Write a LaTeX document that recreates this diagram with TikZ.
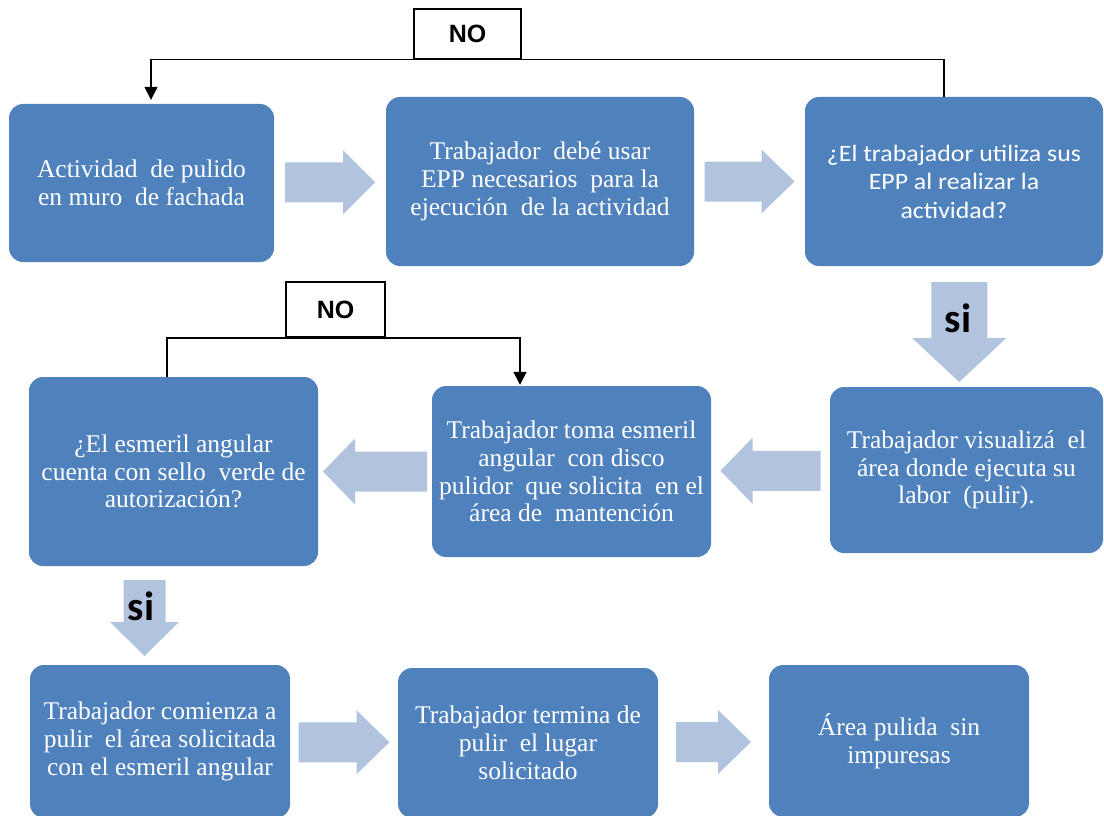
\documentclass[tikz,border=0pt]{standalone}
\usepackage{fontspec}
\setmainfont{Liberation Serif}
\newfontfamily\calibrifont[FakeStretch=1.1]{Carlito}
\newfontfamily\calibribold{Carlito}
\newfontfamily\arialfont{Liberation Sans}
\usetikzlibrary{arrows.meta,calc}
\definecolor{boxblue}{RGB}{79,129,189}
\definecolor{blockfill}{RGB}{178,195,221}

% block arrow: #1 centre, #2 rotation, #3 length, #4 head length, #5 half head width, #6 half shaft width
\newcommand\blockarrow[6]{%
  \begin{scope}[shift={#1},rotate=#2]
    \fill[blockfill] ({-#3/2},{-#6}) -- ({#3/2-#4},{-#6}) -- ({#3/2-#4},{-#5}) -- ({#3/2},0)
      -- ({#3/2-#4},{#5}) -- ({#3/2-#4},{#6}) -- ({-#3/2},{#6}) -- cycle;
  \end{scope}}

\tikzset{
  box/.style={rectangle, rounded corners=14, fill=boxblue, text=white, align=center,
    inner sep=0, font=\fontsize{25.5}{27.8}\selectfont},
  nolabel/.style={draw=black, line width=1.5, fill=white, inner sep=0,
    font=\arialfont\bfseries\fontsize{25}{28}\selectfont},
  conn/.style={draw=black, line width=1.5, -{Triangle[width=13,length=13]}},
  silabel/.style={inner sep=0, font=\calibribold\bfseries\fontsize{41}{44}\selectfont},
}

\begin{document}
\begin{tikzpicture}[x=1pt,y=-1pt]
\useasboundingbox (0,0) rectangle (1104,816);
\clip (0,0) rectangle (1104,816);

% process boxes
\node[box, minimum width=265, minimum height=158] (b1) at (141.5,183)
  {Actividad\ \ de pulido\\en muro\ \ de fachada};
\node[box, minimum width=308, minimum height=169] (b2) at (540,181.5)
  {Trabajador\ \ debé usar\\EPP necesarios\ \ para la\\ejecución\ \ de la actividad};
\node[box, minimum width=298, minimum height=169, font=\calibrifont\fontsize{23.5}{28.5}\selectfont] (b3) at (954,181.5)
  {¿El trabajador utiliza sus\\EPP al realizar la\\actividad?};
\node[box, minimum width=273, minimum height=166] (b4) at (966.5,470)
  {Trabajador visualizá\ \ el\\área donde ejecuta su\\labor\ \ (pulir).};
\node[box, minimum width=279, minimum height=171] (b5) at (571.5,471.5)
  {Trabajador toma esmeril\\angular\ \ con disco\\pulidor\ \ que solicita\ \ en el\\área de\ \ mantención};
\node[box, minimum width=289, minimum height=189] (b6) at (173.5,471.5)
  {¿El esmeril angular\\cuenta con sello\ \ verde de\\autorización?};
\node[box, minimum width=260, minimum height=153] (b7) at (160,741.5)
  {Trabajador comienza a\\pulir\ \ el área solicitada\\con el esmeril angular};
\node[box, minimum width=260, minimum height=150] (b8) at (528,743)
  {Trabajador termina de\\pulir\ \ el lugar\\solicitado};
\node[box, minimum width=260, minimum height=152] (b9) at (899,741)
  {Área pulida\ \ sin\\impuresas};

% block arrows between the steps
\blockarrow{($(b1.east)!0.5!(b2.west)$)}{0}{90}{32}{32}{20}
\blockarrow{($(b2.east)!0.5!(b3.west)$)}{0}{90}{33}{32}{20}
\blockarrow{($(b3.south)!0.5!(b4.north)+(-1,5.5)$)}{-90}{100}{44}{47}{28}
\blockarrow{($(b4.west)!0.5!(b5.east)$)}{180}{100}{32}{33}{20}
\blockarrow{($(b5.west)!0.5!(b6.east)$)}{180}{104}{32}{33}{20}
\blockarrow{($(b6.south)!0.5!(b7.north)+(-22.25,2.5)$)}{-90}{76}{34}{34.5}{21}
\blockarrow{($(b7.east)!0.5!(b8.west)$)}{0}{91}{33}{32}{20}
\blockarrow{($(b8.east)!0.5!(b9.west)$)}{0}{75}{33}{32}{20}

\node[silabel] (si1) at (958,318) {si};
\node[silabel] (si2) at (141,606) {si};

% "NO" branches
\node[nolabel, minimum width=107, minimum height=50] (no1) at (467.5,34) {NO};
\node[nolabel, minimum width=99, minimum height=55] (no2) at (335.5,309.5) {NO};

\draw[conn, shorten >=4] ([xshift=-10]b3.north) |- (no1.south) -| ([xshift=9.5]b1.north);
\draw[conn, shorten >=1] ([xshift=-6.5]b6.north) |- (no2.south) -| ([xshift=-51.5]b5.north);
\end{tikzpicture}
\end{document}
